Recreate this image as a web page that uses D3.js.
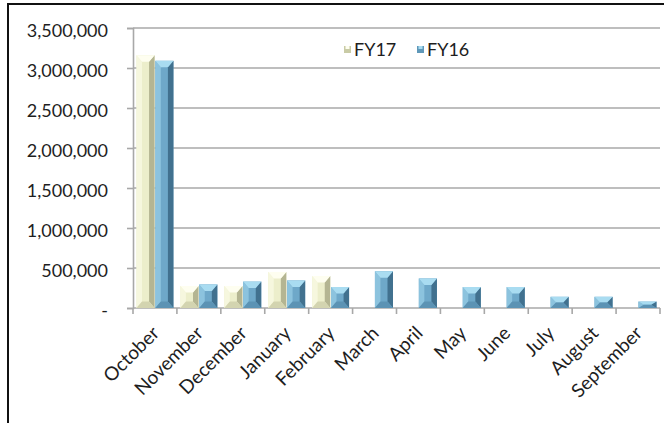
<!DOCTYPE html>
<html>
<head>
<meta charset="utf-8">
<script src="https://cdn.jsdelivr.net/npm/d3@7"></script>
<style>
	body { margin: 0; background: #fff; }
	text { font-family: Lato, "Open Sans", sans-serif; fill: #1e1e1e; }
</style>
</head>
<body>
<svg id="chart" width="664" height="423"></svg>
<script>
// data
var months = ["October", "November", "December", "January", "February", "March",
	"April", "May", "June", "July", "August", "September"];
var seriesNames = ["FY17", "FY16"];
var fy17 = [3160000, 275000, 275000, 450000, 400000, null, null, null, null, null, null, null];
var fy16 = [3090000, 295000, 330000, 345000, 262000, 460000, 370000, 262000, 262000, 140000, 140000, 80000];
var yTicks = [0, 500000, 1000000, 1500000, 2000000, 2500000, 3000000, 3500000];

// bevel colours per series: top, left, face, right, bottom
var shades = {
	FY17: { top: "#fefef0", left: "#f6f7de", face: "#eceecb", right: "#b4b592", bottom: "#d3d4b0" },
	FY16: { top: "#a9dcf1", left: "#8cc3de", face: "#6ea8c9", right: "#41718f", bottom: "#5c93b4" }
};

var svg = d3.select("#chart"),
	margin = { top: 28, right: 4, bottom: 115, left: 133 },
	width = +svg.attr("width") - margin.left - margin.right,
	height = +svg.attr("height") - margin.top - margin.bottom;

// frame (runs off the right and bottom edge like the cropped original)
svg.append("rect")
	.attr("x", 8).attr("y", 4)
	.attr("width", 700).attr("height", 500)
	.attr("fill", "none")
	.attr("stroke", "#111")
	.attr("stroke-width", 2);

var x0 = d3.scaleBand().domain(months).range([0, width]).padding(0);
var x1 = d3.scaleBand().domain(seriesNames)
	.range([3.5, x0.bandwidth() - 3.5]).paddingInner(0.04);
var y = d3.scaleLinear().domain([0, 3500000]).range([height, 0]);

var g = svg.append("g")
	.attr("transform", "translate(" + margin.left + "," + margin.top + ")");

// gridlines
g.selectAll(".grid")
	.data(yTicks.slice(1))
	.enter().append("line")
	.attr("class", "grid")
	.attr("x1", 0).attr("x2", width)
	.attr("y1", function(d) { return y(d); })
	.attr("y2", function(d) { return y(d); })
	.attr("stroke", "#a8a8a8")
	.attr("stroke-width", 1.6);

// y axis
var yAxis = g.append("g")
	.call(d3.axisLeft(y).tickValues(yTicks).tickSize(6).tickPadding(19)
		.tickFormat(function(d) { return d === 0 ? "-" : d3.format(",")(d); }));
yAxis.select(".domain").attr("stroke", "#a8a8a8").attr("stroke-width", 1.6);
yAxis.selectAll(".tick line").attr("stroke", "#a8a8a8").attr("stroke-width", 1.6);
yAxis.selectAll(".tick text")
	.attr("font-size", 18)
	.attr("dy", "0.45em")
	.style("font-family", "Lato, sans-serif")
	.attr("fill", "#1e1e1e");

// x axis line and tick marks at band edges
g.append("line")
	.attr("x1", 0).attr("x2", width)
	.attr("y1", height).attr("y2", height)
	.attr("stroke", "#a8a8a8").attr("stroke-width", 1.6);
g.selectAll(".xtick")
	.data(months.concat(["end"]))
	.enter().append("line")
	.attr("class", "xtick")
	.attr("x1", function(d, i) { return i * x0.bandwidth(); })
	.attr("x2", function(d, i) { return i * x0.bandwidth(); })
	.attr("y1", height).attr("y2", height + 6)
	.attr("stroke", "#a8a8a8").attr("stroke-width", 1.6);

// category labels, rotated
g.selectAll(".xlabel")
	.data(months)
	.enter().append("text")
	.attr("class", "xlabel")
	.attr("text-anchor", "end")
	.attr("font-size", 19)
	.attr("transform", function(d) {
		return "translate(" + (x0(d) + x0.bandwidth() / 2 - 4) + "," + (height + 17) + ") rotate(-45)";
	})
	.attr("dy", "0.7em")
	.text(function(d) { return d; });

// bars
var bars = [];
months.forEach(function(m, i) {
	if (fy17[i] != null) bars.push({ month: m, series: "FY17", value: fy17[i] });
	if (fy16[i] != null) bars.push({ month: m, series: "FY16", value: fy16[i] });
});

function bevel(d) {
	var bx = x0(d.month) + x1(d.series), w = x1.bandwidth(),
		top = y(d.value), bot = y(0), h = bot - top;
	return { x: bx, w: w, top: top, bot: bot, s: Math.min(5.5, w / 2), t: Math.min(6.5, h / 2) };
}

var bar = g.selectAll(".bar")
	.data(bars)
	.enter().append("g")
	.attr("class", "bar");

bar.append("rect")
	.attr("x", function(d) { return bevel(d).x; })
	.attr("y", function(d) { return bevel(d).top; })
	.attr("width", x1.bandwidth())
	.attr("height", function(d) { return y(0) - y(d.value); })
	.attr("fill", function(d) { return shades[d.series].face; });

var parts = [
	["left", function(b) { return [[b.x, b.top], [b.x + b.s, b.top + b.t], [b.x + b.s, b.bot - b.t], [b.x, b.bot]]; }],
	["right", function(b) { return [[b.x + b.w, b.top], [b.x + b.w - b.s, b.top + b.t], [b.x + b.w - b.s, b.bot - b.t], [b.x + b.w, b.bot]]; }],
	["top", function(b) { return [[b.x, b.top], [b.x + b.w, b.top], [b.x + b.w - b.s, b.top + b.t], [b.x + b.s, b.top + b.t]]; }],
	["bottom", function(b) { return [[b.x, b.bot], [b.x + b.w, b.bot], [b.x + b.w - b.s, b.bot - b.t], [b.x + b.s, b.bot - b.t]]; }]
];
parts.forEach(function(p) {
	bar.append("polygon")
		.attr("points", function(d) { return p[1](bevel(d)).join(" "); })
		.attr("fill", function(d) { return shades[d.series][p[0]]; });
});

// legend
var legend = svg.append("g").attr("transform", "translate(344,46)");
var item = legend.selectAll(".item")
	.data(seriesNames)
	.enter().append("g")
	.attr("class", "item")
	.attr("transform", function(d, i) { return "translate(" + (i * 73) + ",0)"; });
item.append("rect")
	.attr("width", 7).attr("height", 7)
	.attr("fill", function(d) { return d === "FY17" ? "#c9cba6" : "#5f98b9"; });
item.append("rect")
	.attr("x", 1.5).attr("y", 0).attr("width", 4).attr("height", 3)
	.attr("fill", function(d) { return shades[d].top; });
item.append("text")
	.attr("x", 10).attr("y", 4)
	.attr("dy", "0.36em")
	.attr("font-size", 18)
	.text(function(d) { return d; });
</script>
</body>
</html>
